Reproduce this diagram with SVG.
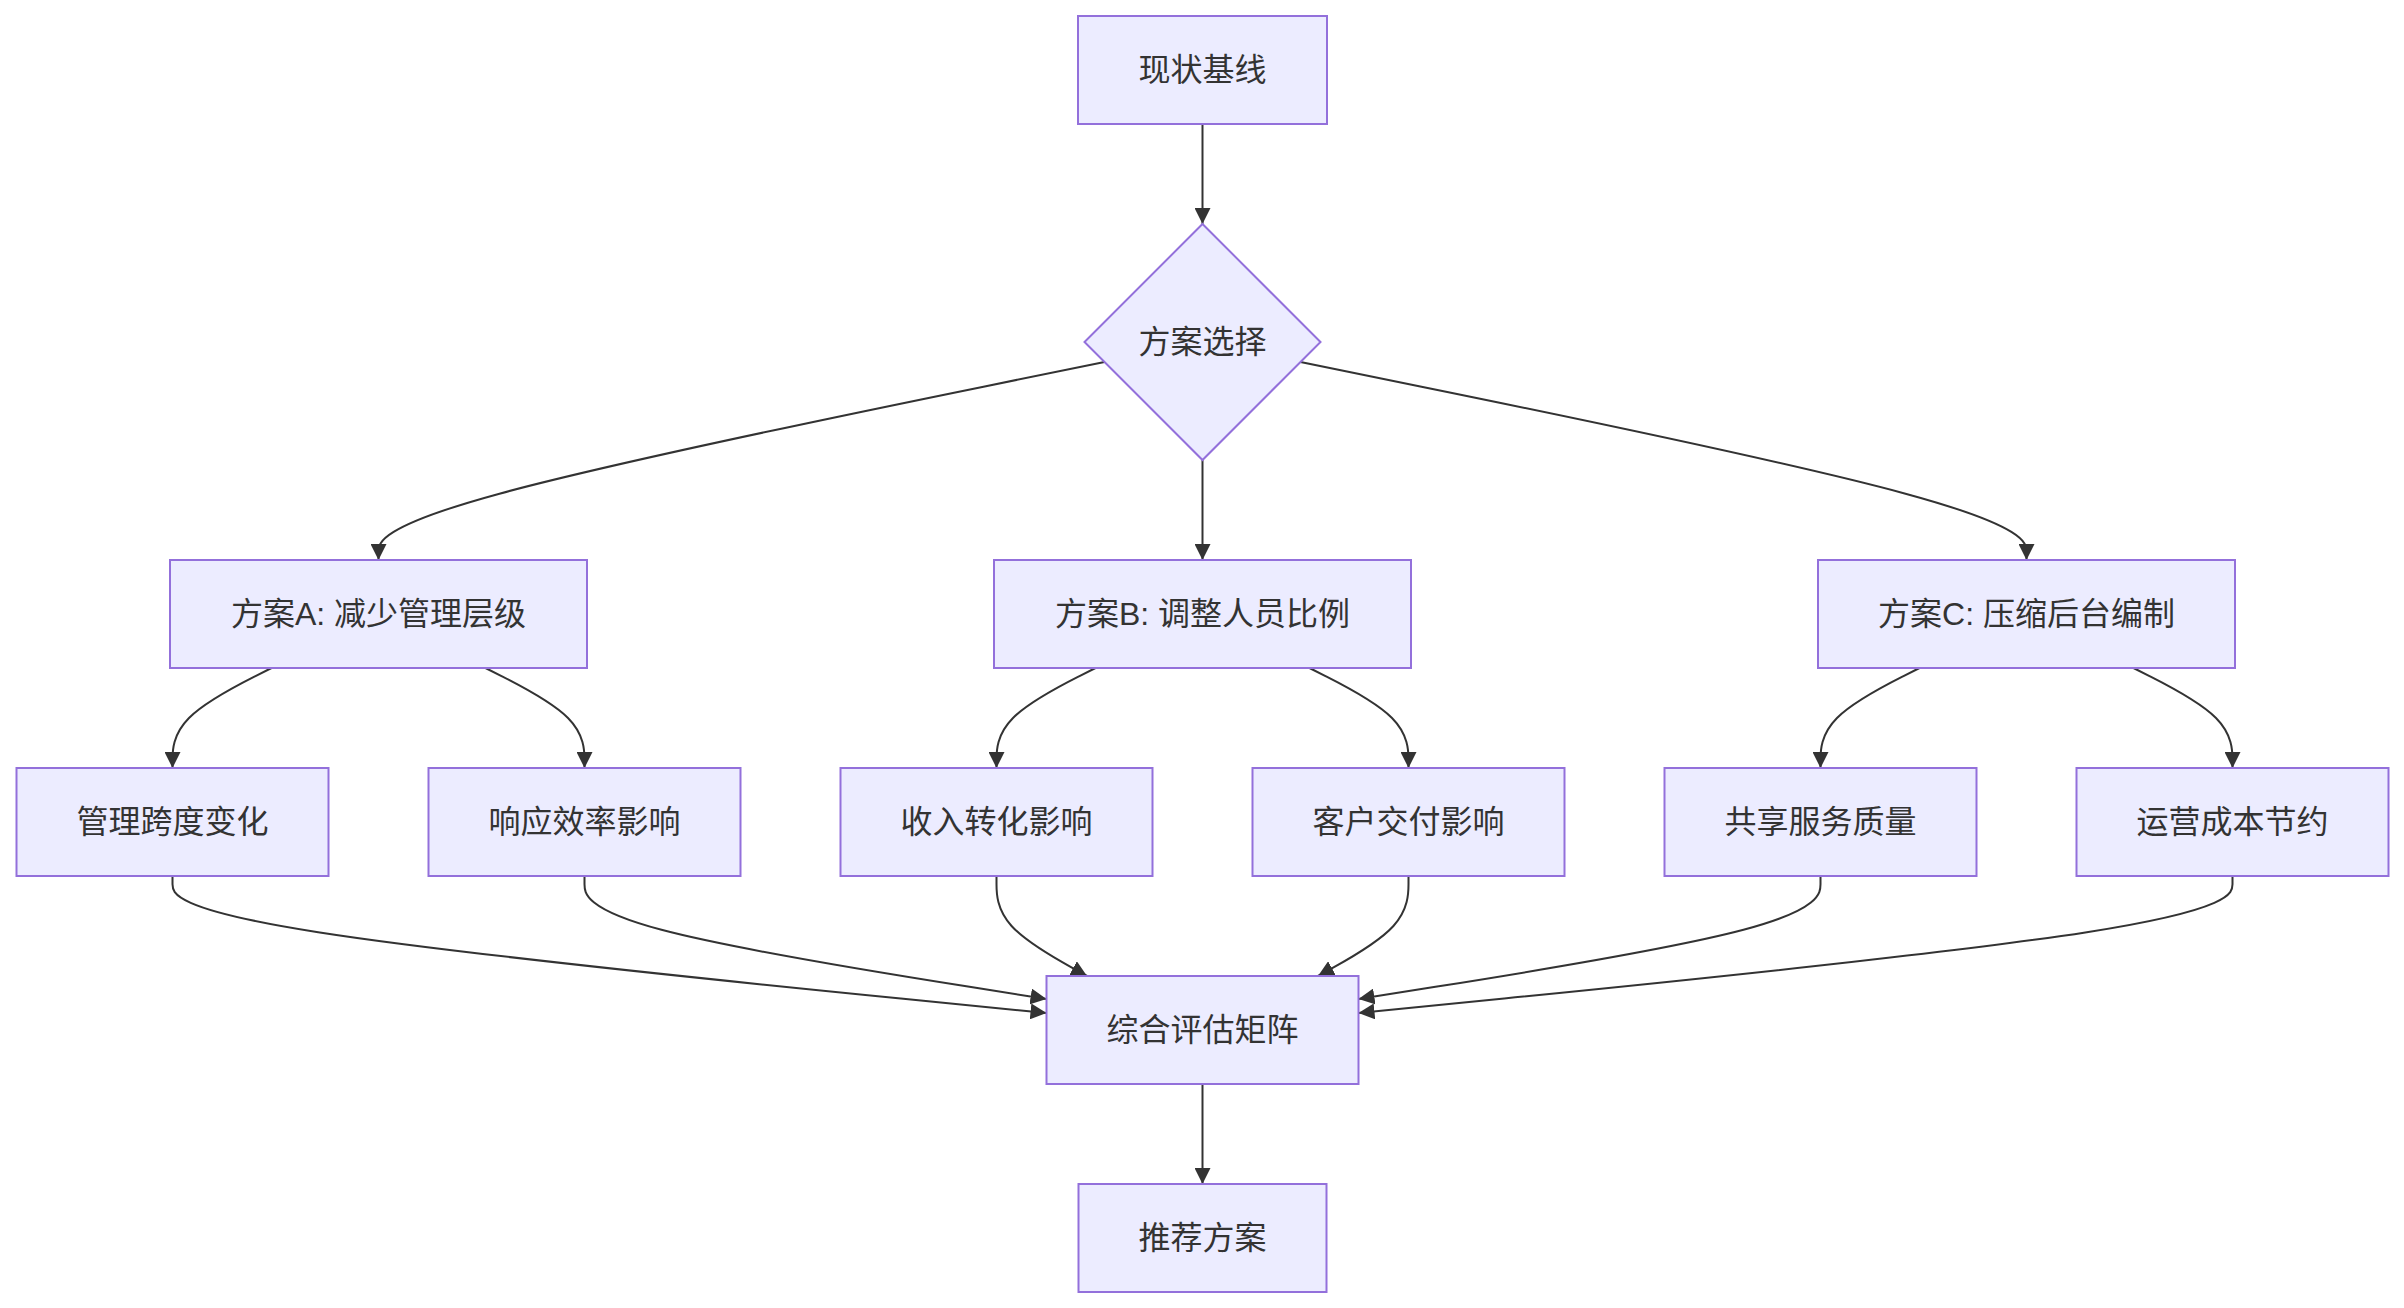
<svg xmlns="http://www.w3.org/2000/svg" width="2404" height="1308" viewBox="0 0 2404 1308">
<style>
.node rect, .node polygon { fill: #ECECFF; stroke: #9370DB; stroke-width: 2; }
.node text { font-family: "Liberation Sans", "Noto Sans CJK SC", sans-serif; font-size: 32px; fill: #333333; text-anchor: middle; dominant-baseline: central; }
.edges path { fill: none; stroke: #333333; stroke-width: 2; }
</style>
<defs>
<marker id="arrow" viewBox="0 0 10 10" refX="10" refY="5" markerWidth="16" markerHeight="16" markerUnits="userSpaceOnUse" orient="auto">
<path d="M0,0 L10,5 L0,10 z" fill="#333333"/>
</marker>
</defs>
<rect width="2404" height="1308" fill="#ffffff"/>
<g class="edges" marker-end="url(#arrow)">
<path id="e1" d="M1202.5,124 L1202.5,224" marker-end="url(#arrow)"/>
<path id="e2" d="M1104.5,362 L983.5,386.67 C862.5,411.33 620.5,460.67 499.5,493.67 C378.5,526.67 378.5,543.33 378.5,551.67 L378.5,560" marker-end="url(#arrow)"/>
<path id="e3" d="M1202.5,460 L1202.5,560" marker-end="url(#arrow)"/>
<path id="e4" d="M1300.5,362 L1421.5,386.67 C1542.5,411.33 1784.5,460.67 1905.5,493.67 C2026.5,526.67 2026.5,543.33 2026.5,551.67 L2026.5,560" marker-end="url(#arrow)"/>
<path id="e5" d="M271.5,668 L255,676.33 C238.5,684.67 205.5,701.33 189,718 C172.5,734.67 172.5,751.33 172.5,759.67 L172.5,768" marker-end="url(#arrow)"/>
<path id="e6" d="M485.5,668 L502,676.33 C518.5,684.67 551.5,701.33 568,718 C584.5,734.67 584.5,751.33 584.5,759.67 L584.5,768" marker-end="url(#arrow)"/>
<path id="e7" d="M1095.5,668 L1079,676.33 C1062.5,684.67 1029.5,701.33 1013,718 C996.5,734.67 996.5,751.33 996.5,759.67 L996.5,768" marker-end="url(#arrow)"/>
<path id="e8" d="M1309.5,668 L1326,676.33 C1342.5,684.67 1375.5,701.33 1392,718 C1408.5,734.67 1408.5,751.33 1408.5,759.67 L1408.5,768" marker-end="url(#arrow)"/>
<path id="e9" d="M1919.5,668 L1903,676.33 C1886.5,684.67 1853.5,701.33 1837,718 C1820.5,734.67 1820.5,751.33 1820.5,759.67 L1820.5,768" marker-end="url(#arrow)"/>
<path id="e10" d="M2133.5,668 L2150,676.33 C2166.5,684.67 2199.5,701.33 2216,718 C2232.5,734.67 2232.5,751.33 2232.5,759.67 L2232.5,768" marker-end="url(#arrow)"/>
<path id="e11" d="M172.5,876 L172.5,884.33 C172.5,892.67 172.5,909.33 318.17,932.17 C463.83,955 755.17,984 900.83,998.5 L1046.5,1013" marker-end="url(#arrow)"/>
<path id="e12" d="M584.5,876 L584.5,884.33 C584.5,892.67 584.5,909.33 661.5,929.83 C738.5,950.33 892.5,974.67 969.5,986.83 L1046.5,999" marker-end="url(#arrow)"/>
<path id="e13" d="M996.5,876 L996.5,884.33 C996.5,892.67 996.5,909.33 1011.58,926 C1026.67,942.67 1056.83,959.33 1071.92,967.67 L1087,976" marker-end="url(#arrow)"/>
<path id="e14" d="M1408.5,876 L1408.5,884.33 C1408.5,892.67 1408.5,909.33 1393.42,926 C1378.33,942.67 1348.17,959.33 1333.08,967.67 L1318,976" marker-end="url(#arrow)"/>
<path id="e15" d="M1820.5,876 L1820.5,884.33 C1820.5,892.67 1820.5,909.33 1743.5,929.83 C1666.5,950.33 1512.5,974.67 1435.5,986.83 L1358.5,999" marker-end="url(#arrow)"/>
<path id="e16" d="M2232.5,876 L2232.5,884.33 C2232.5,892.67 2232.5,909.33 2086.83,932.17 C1941.17,955 1649.83,984 1504.17,998.5 L1358.5,1013" marker-end="url(#arrow)"/>
<path id="e17" d="M1202.5,1084 L1202.5,1184" marker-end="url(#arrow)"/>
</g>
<g id="n-baseline" class="node"><rect x="1078" y="16" width="249" height="108"/><text x="1202.5" y="70">现状基线</text></g>
<g id="n-choice" class="node"><polygon points="1202.5,224 1320.5,342 1202.5,460 1084.5,342"/><text x="1202.5" y="342">方案选择</text></g>
<g id="n-a" class="node"><rect x="170" y="560" width="417" height="108"/><text x="378.5" y="614">方案A: 减少管理层级</text></g>
<g id="n-b" class="node"><rect x="994" y="560" width="417" height="108"/><text x="1202.5" y="614">方案B: 调整人员比例</text></g>
<g id="n-c" class="node"><rect x="1818" y="560" width="417" height="108"/><text x="2026.5" y="614">方案C: 压缩后台编制</text></g>
<g id="n-a1" class="node"><rect x="16.5" y="768" width="312" height="108"/><text x="172.5" y="822">管理跨度变化</text></g>
<g id="n-a2" class="node"><rect x="428.5" y="768" width="312" height="108"/><text x="584.5" y="822">响应效率影响</text></g>
<g id="n-b1" class="node"><rect x="840.5" y="768" width="312" height="108"/><text x="996.5" y="822">收入转化影响</text></g>
<g id="n-b2" class="node"><rect x="1252.5" y="768" width="312" height="108"/><text x="1408.5" y="822">客户交付影响</text></g>
<g id="n-c1" class="node"><rect x="1664.5" y="768" width="312" height="108"/><text x="1820.5" y="822">共享服务质量</text></g>
<g id="n-c2" class="node"><rect x="2076.5" y="768" width="312" height="108"/><text x="2232.5" y="822">运营成本节约</text></g>
<g id="n-matrix" class="node"><rect x="1046.5" y="976" width="312" height="108"/><text x="1202.5" y="1030">综合评估矩阵</text></g>
<g id="n-rec" class="node"><rect x="1078.5" y="1184" width="248" height="108"/><text x="1202.5" y="1238">推荐方案</text></g>
</svg>
